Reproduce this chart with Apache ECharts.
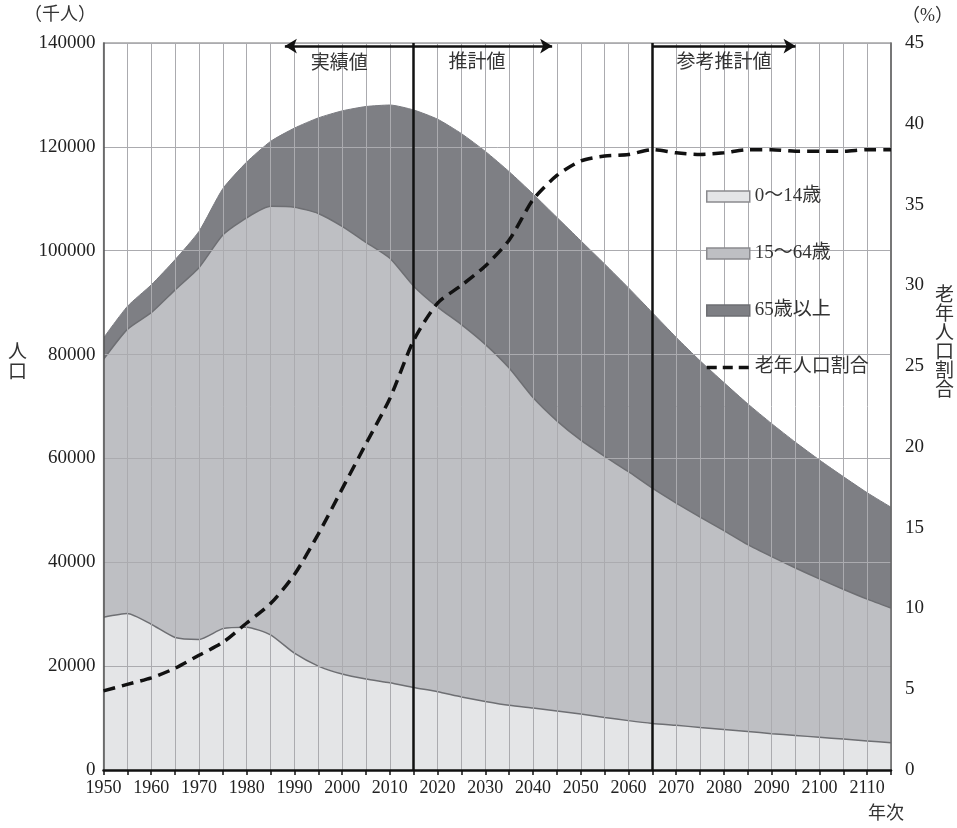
<!DOCTYPE html>
<html>
<head>
<meta charset="utf-8">
<script src="https://cdn.jsdelivr.net/npm/echarts@6/dist/echarts.min.js"></script>
<style>
html,body{margin:0;padding:0;background:#fff;}
#main{width:957px;height:828px;}
</style>
</head>
<body>
<div id="main"></div>
<script>
const years = [1950,1955,1960,1965,1970,1975,1980,1985,1990,1995,2000,2005,2010,2015,2020,2025,2030,2035,2040,2045,2050,2055,2060,2065,2070,2075,2080,2085,2090,2095,2100,2105,2110,2115];
const young = [29428,30123,28067,25529,25153,27221,27507,26033,22486,20014,18472,17521,16803,15887,15075,14073,13212,12457,11936,11384,10767,10123,9508,8975,8600,8200,7800,7400,7000,6650,6300,5950,5600,5250];
const working = [49658,54729,60002,66928,71566,75807,78835,82506,85904,87165,86220,84092,81735,77282,74058,71701,68754,64942,59777,55845,52750,50276,47928,45291,42800,40500,38300,36000,34100,32250,30500,28850,27300,25950];
const elderly = [4114,4424,5350,5818,7001,8912,10718,12510,15221,18391,22234,26155,29519,33926,36192,36771,37160,37817,39206,39192,38406,37042,35403,33810,31900,30100,28500,27100,25600,24200,22900,21700,20500,19400];
const ratio = [4.9,5.3,5.7,6.3,7.1,7.9,9.1,10.3,12.1,14.6,17.4,20.2,23.0,26.6,28.9,30.0,31.2,32.8,35.3,36.8,37.7,38.0,38.1,38.4,38.2,38.1,38.2,38.4,38.4,38.3,38.3,38.3,38.4,38.4];
const seriesNames = ['0〜14歳','15〜64歳','65歳以上','老年人口割合'];
const leftTicks = {min:0, max:140000, interval:20000};
const rightTicks = {min:0, max:45, interval:5};

const FONT = "'Liberation Serif', 'Noto Sans CJK JP', serif";
const chart = echarts.init(document.getElementById('main'));

// cumulative boundaries of the stacked areas, computed from the arrays above
const cumYoung = young.slice();
const cumWorking = young.map((v,i)=>v+working[i]);
const cumTotal = young.map((v,i)=>v+working[i]+elderly[i]);
const pairs = arr => years.map((y,i)=>[y, arr[i]]);

const labelAt = {
  1950: {position:'right', distance:2, offset:[0,20]},
  2015: {position:'left', distance:8, offset:[0,-2]},
  2065: {position:'left', distance:2, offset:[0,21]},
  2115: {position:'left', distance:3, offset:[0,18]}
};
const ratioData = years.map((y,i)=>{
  const d = {value:[y, ratio[i]]};
  if (labelAt[y]) {
    d.label = Object.assign({show:true, formatter: ratio[i].toFixed(1)+'%', fontFamily:FONT, fontSize:18, color:'#333'}, labelAt[y]);
  }
  return d;
});

const areaLine = {color:'#6e6f73', width:1.5};
const lbl = (t, off) => ({show:true, formatter:t, position:'insideMiddleBottom', distance:6, offset:off, fontFamily:FONT, fontSize:19, color:'#333'});
const SM = 0.2;
const option = {
  animation:false,
  backgroundColor:'#fff',
  textStyle:{fontFamily:FONT},
  grid:{left:103.5, right:66, top:43, bottom:58, show:true, borderColor:'#777', borderWidth:1.2, backgroundColor:'transparent'},
  legend:{
    orient:'vertical', left:700, top:182, itemWidth:43, itemHeight:11, itemGap:38,
    textStyle:{fontFamily:FONT, fontSize:19, color:'#333'},
    data:[
      {name:seriesNames[0], icon:'rect', itemStyle:{borderColor:'#8a8a8e', borderWidth:1.5}},
      {name:seriesNames[1], icon:'rect', itemStyle:{borderColor:'#8a8a8e', borderWidth:1.5}},
      {name:seriesNames[2], icon:'rect', itemStyle:{borderColor:'#6e6f73', borderWidth:1.5}},
      {name:seriesNames[3], lineStyle:{width:3.5, type:[10,6], color:'#111'}}
    ]
  },
  xAxis:{
    type:'value', min:1950, max:2115, interval:5, z:3,
    axisLine:{lineStyle:{color:'#111', width:2.5}},
    axisTick:{show:true, length:5, lineStyle:{color:'#111', width:1.5}},
    axisLabel:{fontFamily:FONT, fontSize:18, color:'#222', margin:9,
      formatter: v => (v%10===0 && v<2115) ? String(v) : ''},
    splitLine:{show:true, lineStyle:{color:'#ababaf', width:1}}
  },
  yAxis:[
    {type:'value', min:leftTicks.min, max:leftTicks.max, interval:leftTicks.interval, z:3,
      axisLine:{show:true, lineStyle:{color:'#555', width:1.5}},
      axisTick:{show:false},
      axisLabel:{fontFamily:FONT, fontSize:19, color:'#222', margin:8, formatter: v => String(v)},
      splitLine:{show:true, lineStyle:{color:'#ababaf', width:1}}},
    {type:'value', min:rightTicks.min, max:rightTicks.max, interval:rightTicks.interval, z:3, position:'right',
      axisLine:{show:true, lineStyle:{color:'#666', width:1.5}},
      axisTick:{show:false},
      axisLabel:{fontFamily:FONT, fontSize:19, color:'#222', margin:14, formatter: v => String(v)},
      splitLine:{show:false}}
  ],
  series:[
    {name:seriesNames[2], type:'line', yAxisIndex:0, data:pairs(cumTotal), showSymbol:false, symbol:'none',
      smooth:SM,
      lineStyle:{color:'#7a7b80', width:1}, itemStyle:{color:'#7e7f84'}, areaStyle:{color:'#7e7f84', opacity:1, origin:'start'}, z:1,
      markLine:{
        silent:true, z:6,
        lineStyle:{color:'#111', width:2.5, type:'solid'},
        symbolSize:[11,12],
        label:{show:false},
        data:[
          [{coord:[2015,leftTicks.min], symbol:'none'},{coord:[2015,leftTicks.max], symbol:'none'}],
          [{coord:[2065,leftTicks.min], symbol:'none'},{coord:[2065,leftTicks.max], symbol:'none'}],
          [{coord:[1988,139400], symbol:'arrow', label:lbl('実績値',[-10,2])},{coord:[2015,139400], symbol:'none'}],
          [{coord:[2015,139400], symbol:'none', label:lbl('推計値',[-6,1])},{coord:[2044,139400], symbol:'arrow'}],
          [{coord:[2065,139400], symbol:'none', label:lbl('参考推計値',[0,1])},{coord:[2095,139400], symbol:'arrow'}]
        ]
      }},
    {name:seriesNames[1], type:'line', yAxisIndex:0, data:pairs(cumWorking), showSymbol:false, symbol:'none',
      smooth:SM,
      lineStyle:areaLine, itemStyle:{color:'#bebfc3'}, areaStyle:{color:'#bebfc3', opacity:1, origin:'start'}, z:2},
    {name:seriesNames[0], type:'line', yAxisIndex:0, data:pairs(cumYoung), showSymbol:false, symbol:'none',
      smooth:SM,
      lineStyle:areaLine, itemStyle:{color:'#e4e5e7'}, areaStyle:{color:'#e4e5e7', opacity:1, origin:'start'}, z:2},
    {name:seriesNames[3], type:'line', yAxisIndex:1, data:ratioData, smooth:0.25,
      showSymbol:true, symbol:'circle', symbolSize:1, itemStyle:{color:'#111', opacity:0},
      lineStyle:{color:'#111', width:3.5, type:[12,7]}, z:5}
  ],
  graphic:[
    {type:'text', left:24, top:6, style:{text:'（千人）', font:"18px "+FONT, fill:'#333'}},
    {type:'text', left:902, top:7, style:{text:'（%）', font:"18px "+FONT, fill:'#333'}},
    {type:'text', left:8, top:343, style:{text:'人\n口', font:"19px "+FONT, fill:'#333', lineHeight:20}},
    {type:'text', left:935, top:287, style:{text:'老\n年\n人\n口\n割\n合', font:"19px "+FONT, fill:'#333', lineHeight:19}},
    {type:'text', left:868, top:805, style:{text:'年次', font:"18px "+FONT, fill:'#333'}}
  ]
};
chart.setOption(option);
</script>
</body>
</html>
